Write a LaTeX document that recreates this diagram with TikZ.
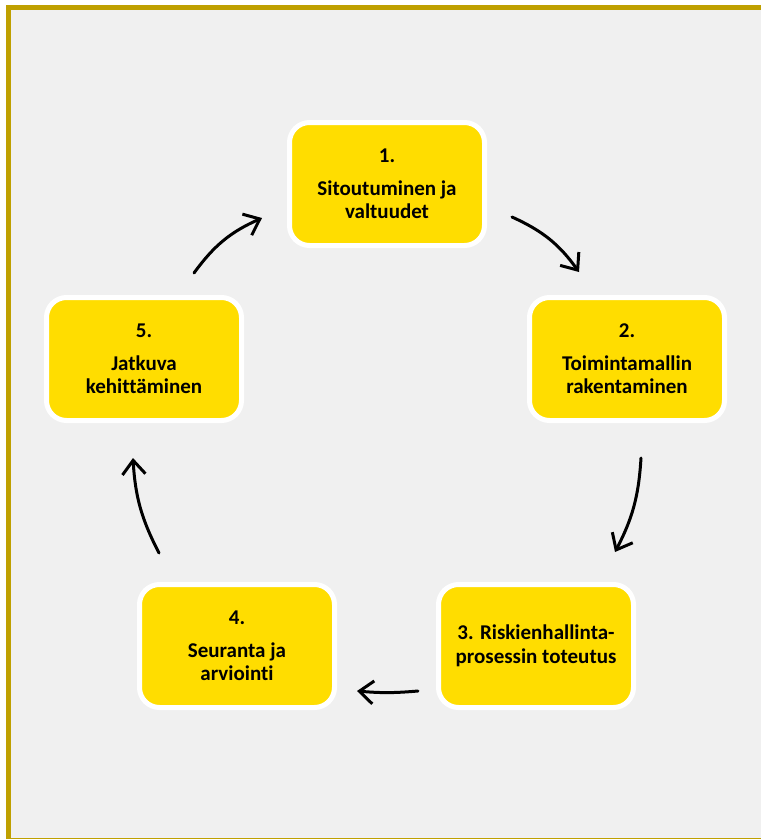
\documentclass[tikz,border=0pt]{standalone}
\usepackage{fontspec}
\setmainfont{Carlito}[Ligatures=NoCommon]
\usetikzlibrary{arrows.meta}

\definecolor{framegold}{RGB}{191,160,0}
\definecolor{panelgray}{RGB}{240,240,240}
\definecolor{phaseyellow}{RGB}{255,221,0}

\tikzset{
    phase/.style={shape=rectangle, rounded corners=20pt, fill=phaseyellow, draw=white, line width=5pt,
        minimum width=195pt, minimum height=123pt, align=center, font=\fontsize{21}{23.5}\selectfont\bfseries},
    turn/.style={line width=3pt, line cap=round, -{Straight Barb[length=14pt,width=23pt]}}
}

\begin{document}
\begin{tikzpicture}[x=1pt,y=1pt]

    % panel and frame
    \useasboundingbox (0,0) rectangle (761,-839);
    \clip (0,0) rectangle (761,-839);
    \fill[white] (0,0) rectangle (761,-839);
    \draw[framegold, line width=5pt, fill=panelgray] (8.5,-7.5) rectangle (766,-840);

    % the five phases
    \foreach \x/\y/\t [count=\p] in {387/184/{1.\\[9pt]Sitoutuminen ja\\valtuudet},
        627/359/{2.\\[9pt]Toimintamallin\\rakentaminen},
        536/646/{3. Riskienhallinta-\\prosessin toteutus},
        237/646/{4.\\[9pt]Seuranta ja\\arviointi},
        144/359/{5.\\[9pt]Jatkuva\\kehittäminen}} {
        \node[phase] (\p) at (\x,-\y) {\t};};

    % arrows round the circle
    \foreach \sx/\sy/\ex/\ey/\b [count=\p] in {512/217/579/272/15, 641/458/615/552/12,
        418/691/357/691/5, 159/553/133/458/12, 194/273/262/218/15} {
        \coordinate (s\p) at (\sx,-\sy);
        \coordinate (e\p) at (\ex,-\ey);
        \draw[turn] (s\p) to[bend left=\b] (e\p);};

\end{tikzpicture}
\end{document}
